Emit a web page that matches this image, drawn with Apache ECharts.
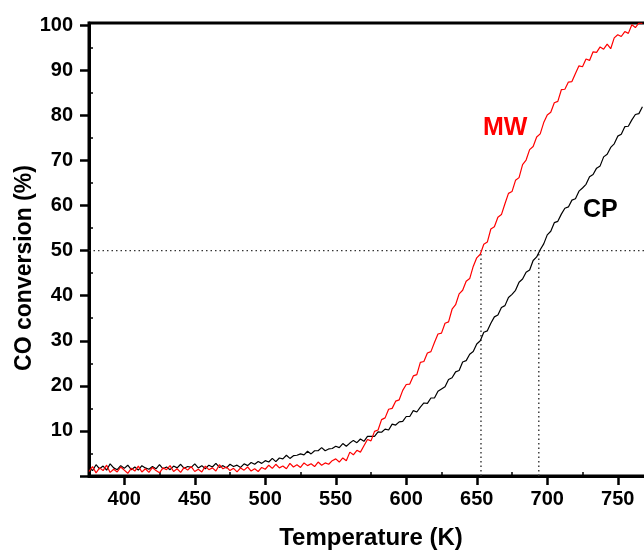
<!DOCTYPE html>
<html>
<head>
<meta charset="utf-8">
<script src="https://cdn.jsdelivr.net/npm/echarts@6/dist/echarts.min.js"></script>
<style>
html,body{margin:0;padding:0;background:#fff;}
#chart{width:644px;height:551px;}
</style>
</head>
<body>
<div id="chart"></div>
<script>
// ---- data ----
const temps = [
375,377.5,380,382.5,385,387.5,390,392.5,395,397.5,
400,402.5,405,407.5,410,412.5,415,417.5,420,422.5,
425,427.5,430,432.5,435,437.5,440,442.5,445,447.5,
450,452.5,455,457.5,460,462.5,465,467.5,470,472.5,
475,477.5,480,482.5,485,487.5,490,492.5,495,497.5,
500,502.5,505,507.5,510,512.5,515,517.5,520,522.5,
525,527.5,530,532.5,535,537.5,540,542.5,545,547.5,
550,552.5,555,557.5,560,562.5,565,567.5,570,572.5,
575,577.5,580,582.5,585,587.5,590,592.5,595,597.5,
600,602.5,605,607.5,610,612.5,615,617.5,620,622.5,
625,627.5,630,632.5,635,637.5,640,642.5,645,647.5,
650,652.5,655,657.5,660,662.5,665,667.5,670,672.5,
675,677.5,680,682.5,685,687.5,690,692.5,695,697.5,
700,702.5,705,707.5,710,712.5,715,717.5,720,722.5,
725,727.5,730,732.5,735,737.5,740,742.5,745,747.5,
750,752.5,755,757.5,760,762.5,765,767.5];
const mwValues = [
1.0,2.1,0.7,1.8,1.2,2.4,0.8,1.5,0.9,2.0,
1.3,0.6,1.7,1.1,2.2,0.9,1.6,0.8,1.9,1.2,
0.7,1.8,1.4,2.3,1.0,1.6,0.8,1.9,1.3,2.1,
1.0,1.5,0.9,2.2,1.4,1.8,1.1,2.5,1.6,2.0,
1.2,1.7,0.9,1.8,1.3,2.0,1.1,1.6,1.0,1.9,
1.5,2.4,1.7,2.6,1.8,2.2,1.6,2.8,2.0,2.5,
1.9,2.9,2.3,2.7,2.1,3.1,2.4,2.9,2.6,3.4,
3.8,3.1,4.0,3.4,5.3,4.7,5.7,5.3,6.7,8.1,
7.8,9.9,10.2,12.5,12.9,14.8,15.0,16.6,16.9,19.0,
20.3,20.4,22.2,22.5,25.2,25.4,27.3,27.6,29.6,31.5,
31.7,33.9,34.2,37.0,38.0,40.4,41.2,43.2,43.8,46.5,
48.4,49.2,51.4,51.9,54.8,55.3,57.4,58.0,60.4,62.7,
63.1,65.6,66.2,69.1,70.1,72.4,73.1,75.2,75.9,78.4,
80.1,80.7,82.8,83.1,85.7,85.8,87.4,87.5,89.3,91.0,
90.8,92.5,92.2,94.1,94.0,95.2,94.7,95.8,94.8,97.2,
97.9,97.5,98.6,98.2,100.1,99.5,100.5,100.4];
const cpValues = [
1.9,1.2,2.5,1.6,2.2,1.3,2.7,1.8,1.4,2.3,
1.7,2.4,1.4,2.0,1.3,2.3,1.8,1.5,2.1,1.6,
2.5,1.6,2.0,1.4,2.2,1.8,2.6,1.7,2.1,1.9,
2.7,1.8,2.3,1.6,2.4,2.0,2.8,1.9,2.3,1.8,
2.6,2.1,2.4,1.9,2.7,2.3,3.0,2.6,3.2,2.8,
3.4,3.1,3.9,3.2,4.0,3.8,4.6,3.9,4.5,4.6,
4.9,4.7,5.5,4.9,5.6,5.6,6.3,5.6,6.0,6.1,
6.6,6.3,7.2,6.6,7.3,7.9,7.4,8.2,7.7,8.8,
8.8,8.8,9.8,9.7,10.4,10.2,11.5,11.3,12.0,12.1,
13.2,13.2,14.5,14.2,15.3,16.2,16.1,17.3,17.3,18.8,
19.3,19.8,21.4,21.8,23.1,23.4,25.3,25.6,27.0,27.6,
29.3,30.0,31.9,32.2,33.9,35.3,35.7,37.4,37.8,39.6,
40.3,41.2,43.0,43.7,45.2,45.7,47.8,48.6,50.2,51.5,
53.5,54.3,56.2,56.5,58.1,59.4,59.7,61.2,61.5,63.2,
63.9,64.7,66.4,66.9,68.3,68.8,70.8,71.4,72.9,73.7,
75.4,75.8,77.5,77.6,79.0,80.2,80.4,81.9];
const xTickLabels = [400,450,500,550,600,650,700,750];
const xMinorTicks = [425,475,525,575,625,675,725];
const yTickLabels = [10,20,30,40,50,60,70,80,90,100];
const yMajorTicks = [0,10,20,30,40,50,60,70,80,90,100];
const yMinorTicks = [5,15,25,35,45,55,65,75,85,95];
const halfLevel = 50;
const t50MW = 653;
const t50CP = 694;

// ---- chart ----
const FONT = "'Liberation Sans', Arial, sans-serif";
const chart = echarts.init(document.getElementById('chart'), null, {renderer: 'canvas'});
const xMin = 375, xMax = 775, yMin = 0, yMax = 100.5;
const pair = (xs, ys) => xs.map((x, i) => [x, ys[i]]);
const guideStyle = {color: '#333', width: 1.4, type: [1.5, 3]};

chart.setOption({
  animation: false,
  backgroundColor: '#fff',
  grid: {left: 89, top: 23, width: 564, bottom: 75, outerBoundsMode: 'none', containLabel: false,
         show: true, borderColor: '#000', borderWidth: 3, backgroundColor: 'transparent'},
  xAxis: [{
    type: 'value', min: xMin, max: xMax,
    name: 'Temperature (K)', nameLocation: 'middle', nameGap: 50,
    nameTextStyle: {fontFamily: FONT, fontWeight: 'bold', fontSize: 24, color: '#000'},
    axisLine: {show: true, onZero: false, lineStyle: {color: '#000', width: 3}},
    axisTick: {show: true, inside: false, length: 9, customValues: xTickLabels, lineStyle: {color: '#000', width: 2.5}},
    axisLabel: {show: true, margin: 13, customValues: xTickLabels, fontFamily: FONT, fontWeight: 'bold', fontSize: 20, color: '#000'},
    splitLine: {show: false}
  }, {
    type: 'value', min: xMin, max: xMax, position: 'bottom',
    axisLine: {show: false},
    axisTick: {show: true, inside: true, length: 4, customValues: xMinorTicks, lineStyle: {color: '#000', width: 1.5}},
    axisLabel: {show: false}, splitLine: {show: false}
  }],
  yAxis: [{
    type: 'value', min: yMin, max: yMax,
    axisLine: {show: true, onZero: false, lineStyle: {color: '#000', width: 3}},
    axisTick: {show: true, inside: false, length: 9, customValues: yMajorTicks, lineStyle: {color: '#000', width: 2.5}},
    axisLabel: {show: true, margin: 16, customValues: yTickLabels, fontFamily: FONT, fontWeight: 'bold', fontSize: 20, color: '#000'},
    splitLine: {show: false}
  }, {
    type: 'value', min: yMin, max: yMax, position: 'left',
    axisLine: {show: false},
    axisTick: {show: true, inside: true, length: 4, customValues: yMinorTicks, lineStyle: {color: '#000', width: 1.5}},
    axisLabel: {show: false}, splitLine: {show: false}
  }],
  series: [
    {type: 'line', name: 'half-h', data: [[xMin, halfLevel], [xMax, halfLevel]], symbol: 'none', lineStyle: guideStyle, silent: true, z: 1},
    {type: 'line', name: 'half-mw', data: [[t50MW, yMin], [t50MW, halfLevel]], symbol: 'none', lineStyle: guideStyle, silent: true, z: 1},
    {type: 'line', name: 'half-cp', data: [[t50CP, yMin], [t50CP, halfLevel]], symbol: 'none', lineStyle: guideStyle, silent: true, z: 1},
    {type: 'line', name: 'CP', data: pair(temps, cpValues), symbol: 'none', lineStyle: {color: '#000', width: 1.2}, z: 2},
    {type: 'line', name: 'MW', data: pair(temps, mwValues), symbol: 'none', lineStyle: {color: '#ff0000', width: 1.2}, z: 3}
  ],
  graphic: [
    {type: 'text', x: 25, y: 268, rotation: Math.PI / 2,
     style: {text: 'CO conversion (%)', fontFamily: FONT, fontWeight: 'bold', fontSize: 23, fill: '#000', textAlign: 'center', textVerticalAlign: 'middle'}},
    {type: 'text', x: 483, y: 116,
     style: {text: 'MW', fontFamily: FONT, fontWeight: 'bold', fontSize: 25, fill: '#ff0000', textAlign: 'left', textVerticalAlign: 'top'}},
    {type: 'text', x: 583, y: 198,
     style: {text: 'CP', fontFamily: FONT, fontWeight: 'bold', fontSize: 25, fill: '#000', textAlign: 'left', textVerticalAlign: 'top'}}
  ]
});
</script>
</body>
</html>
